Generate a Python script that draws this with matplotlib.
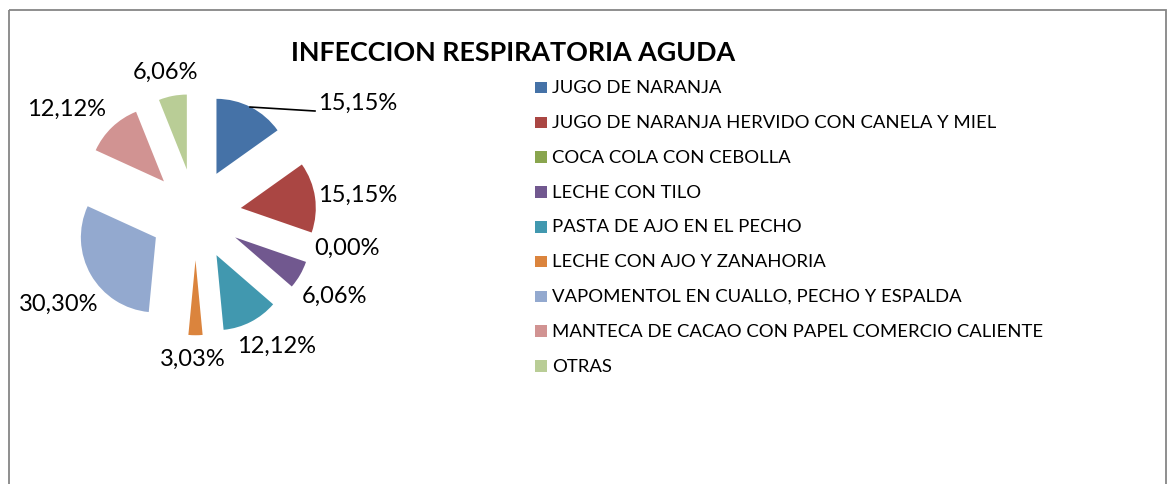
import numpy as np
import matplotlib.pyplot as plt
from matplotlib.patches import Rectangle

plt.rcParams['font.family'] = ['Lato', 'DejaVu Sans']

# data
categories = ['JUGO DE NARANJA', 'JUGO DE NARANJA HERVIDO CON CANELA Y MIEL',
              'COCA COLA CON CEBOLLA', 'LECHE CON TILO', 'PASTA DE AJO EN EL PECHO',
              'LECHE CON AJO Y ZANAHORIA', 'VAPOMENTOL EN CUALLO, PECHO Y ESPALDA',
              'MANTECA DE CACAO CON PAPEL COMERCIO CALIENTE', 'OTRAS']
values = [15.15, 15.15, 0.00, 6.06, 12.12, 3.03, 30.30, 12.12, 6.06]
pct_labels = ['15,15%', '15,15%', '0,00%', '6,06%', '12,12%', '3,03%', '30,30%', '12,12%', '6,06%']
title = 'INFECCION RESPIRATORIA AGUDA'

colors = ['#4572A7', '#AA4643', '#89A54E', '#71588F', '#4198AF',
          '#DB843D', '#93A9CF', '#D19392', '#B9CD96']

# label placement (distance in radii, angle in degrees)
label_r = [2.63, 2.18, 2.06, 2.15, 2.06, 1.92, 2.18, 2.23, 1.95]
label_ang = [34.7, 7.2, -12.2, -30.2, -58.2, -90.9, -146.9, 140.5, 101.8]

W, H = 1173, 485
fig = plt.figure(figsize=(W / 100, H / 100), dpi=100)

# overlay axes in pixel coordinates
over = fig.add_axes([0, 0, 1, 1])
over.set_xlim(0, W)
over.set_ylim(H, 0)
over.axis('off')
over.add_patch(Rectangle((8.5, 10.5), 1157, 500, fill=False, ec='#868686', lw=1.3))

# pie axes: centre at (195.5, 215.5) px, radius 75 px
cx, cy, R = 195.5, 215.5, 75.0
x0, x1 = 10, 420
ax = fig.add_axes([x0 / W, 0, (x1 - x0) / W, 1])
ax.set_zorder(2)
wedges, _ = ax.pie(values, colors=colors, startangle=90, counterclock=False,
                   explode=[0.61] * len(values), radius=1,
                   wedgeprops=dict(linewidth=0))
ax.set_aspect('auto')
ax.set_xlim((x0 - cx) / R, (x1 - cx) / R)
ax.set_ylim((cy - H) / R, cy / R)
ax.axis('off')

for lab, r, a in zip(pct_labels, label_r, label_ang):
    t = np.deg2rad(a)
    ax.text(r * np.cos(t), r * np.sin(t), lab, ha='center', va='center',
            fontsize=17, color='black')

# leader line for the first slice
ax.plot([0.727, 1.593], [1.433, 1.38], color='black', lw=1.2)

over.text(513, 53, title, ha='center', va='center', fontsize=19.4,
          fontweight='bold', color='black')

for i, (c, lab) in enumerate(zip(colors, categories)):
    y = 88.3 + i * 34.8
    over.add_patch(Rectangle((535, y - 5.5), 11.5, 11.5, fc=c, ec='none'))
    over.text(552, y, lab, ha='left', va='center', fontsize=13.3, color='black')

fig.savefig('out.png', dpi=100)
